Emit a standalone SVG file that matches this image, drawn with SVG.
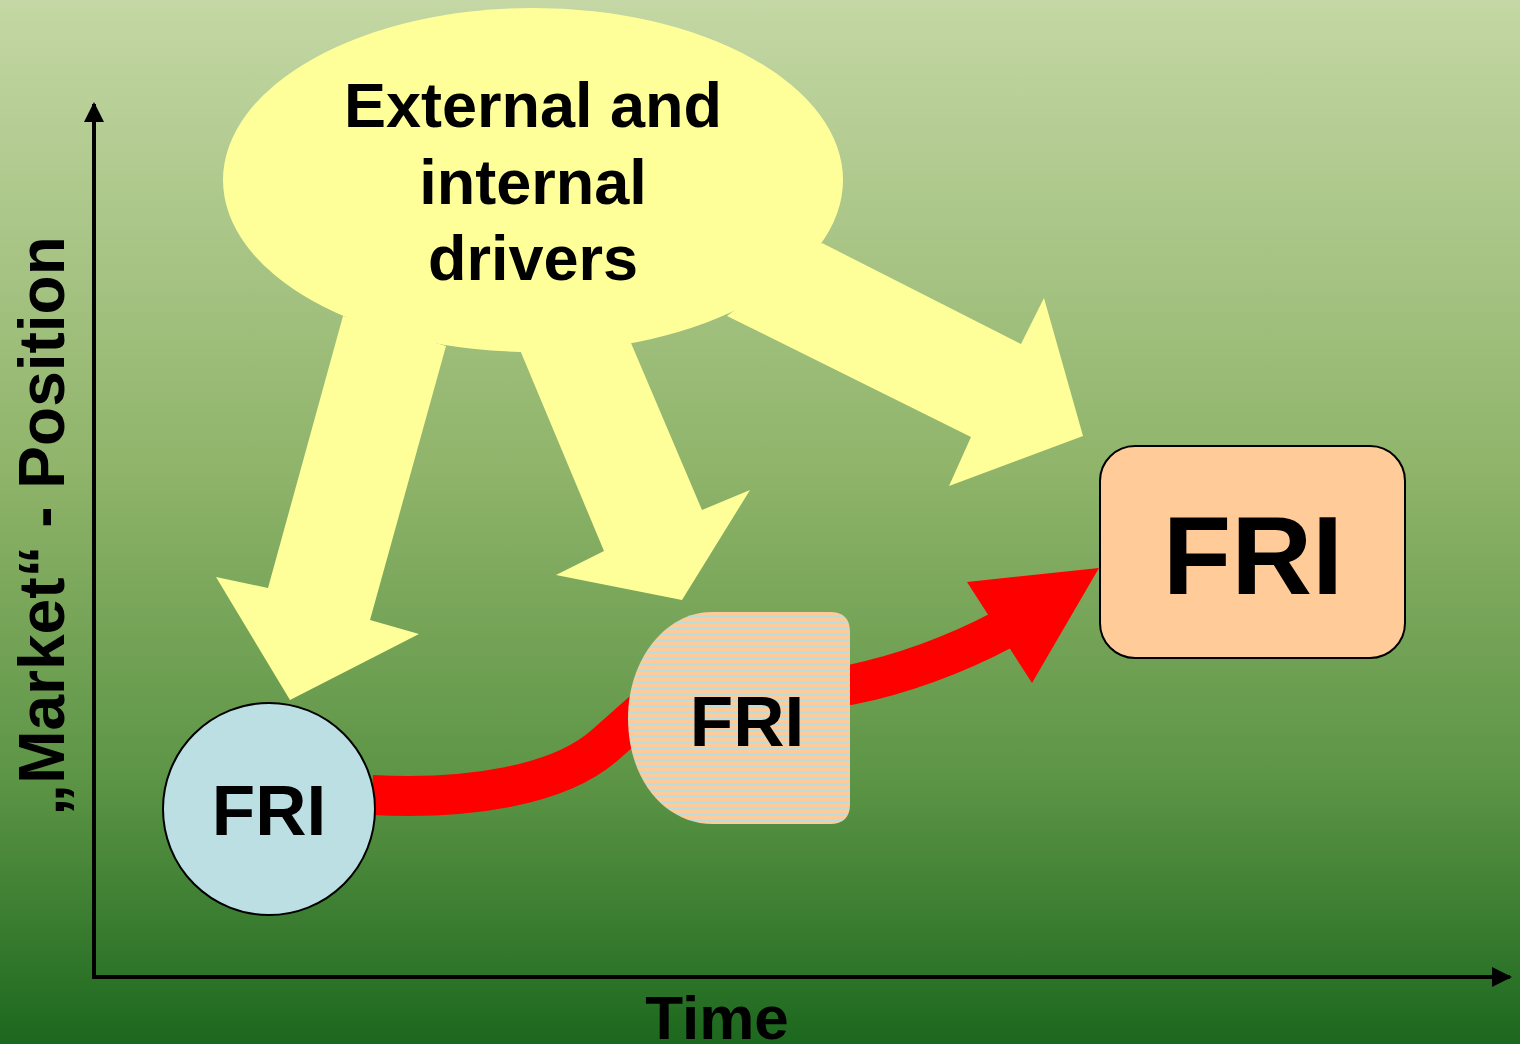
<svg xmlns="http://www.w3.org/2000/svg" width="1520" height="1044" viewBox="0 0 1520 1044">
<style>
.t{font-family:"Liberation Sans",Arial,sans-serif;font-weight:bold;fill:#000;text-anchor:middle}
.yel{fill:#FFFF99}
.axis{stroke:#000;stroke-width:4;fill:none}
</style>
<defs>
<linearGradient id="bg" x1="0" y1="0" x2="0" y2="1">
<stop offset="0" stop-color="#C4D7A4"/>
<stop offset="0.45" stop-color="#8FB46A"/>
<stop offset="0.75" stop-color="#5C9445"/>
<stop offset="1" stop-color="#1C681E"/>
</linearGradient>
<pattern id="stripes" x="0" y="612" width="10" height="6" patternUnits="userSpaceOnUse">
<rect x="0" y="0" width="10" height="3" fill="#FFCC99"/>
<rect x="0" y="3" width="10" height="3" fill="#BBDDDD"/>
</pattern>
<marker id="ah" markerWidth="5" markerHeight="5" refX="4.5" refY="2.5" orient="auto" markerUnits="strokeWidth">
<path d="M0,0 L5,2.5 L0,5 Z" fill="#000"/>
</marker>
</defs>
<rect x="0" y="0" width="1520" height="1044" fill="url(#bg)"/>

<g id="axes">
<path class="axis" d="M94,977 L94,104" marker-end="url(#ah)"/>
<path class="axis" d="M92,977 L1510,977" marker-end="url(#ah)"/>
<text class="t" font-size="62" x="717" y="1039">Time</text>
<text class="t" font-size="64" transform="translate(64,526) rotate(-90)">„Market“ - Position</text>
</g>

<g id="connectors">
<polygon class="yel" points="343,316 446,346 370,620 419,634 290,700 216,577 268,588"/>
<polygon class="yel" points="520,350 631,343 702,510 750,490 682,600 556,575 604,551"/>
<polygon class="yel" points="822,243 1021,344 1044,298 1083,436 949,486 971,437 727,316"/>
<path d="M372,795 C470,800 560,785 605,745 L650,705 L850,685 C900,675 955,655 1002,630" fill="none" stroke="#FF0000" stroke-width="40"/>
<polygon points="967,582 1099,568 1032,683" fill="#FF0000"/>
</g>

<g id="drivers">
<ellipse cx="533" cy="180" rx="310" ry="172" class="yel"/>
<text class="t" font-size="63" x="533" y="127">External and</text>
<text class="t" font-size="63" x="533" y="204">internal</text>
<text class="t" font-size="63" x="533" y="280">drivers</text>
</g>

<g id="fri-small">
<circle cx="269" cy="809" r="106" fill="#BBDFE3" stroke="#000" stroke-width="2"/>
<text class="t" font-size="71" x="269" y="835">FRI</text>
</g>

<g id="fri-mid">
<path d="M712,612 L830,612 Q850,612 850,632 L850,804 Q850,824 830,824 L713,824 C665,824 628,780 628,718 C628,660 665,612 712,612 Z" fill="url(#stripes)"/>
<text class="t" font-size="71" x="747" y="746">FRI</text>
</g>

<g id="fri-large">
<rect x="1100" y="446" width="305" height="212" rx="35" ry="35" fill="#FFCC99" stroke="#000" stroke-width="2"/>
<text class="t" font-size="112" x="1253" y="594">FRI</text>
</g>
</svg>
